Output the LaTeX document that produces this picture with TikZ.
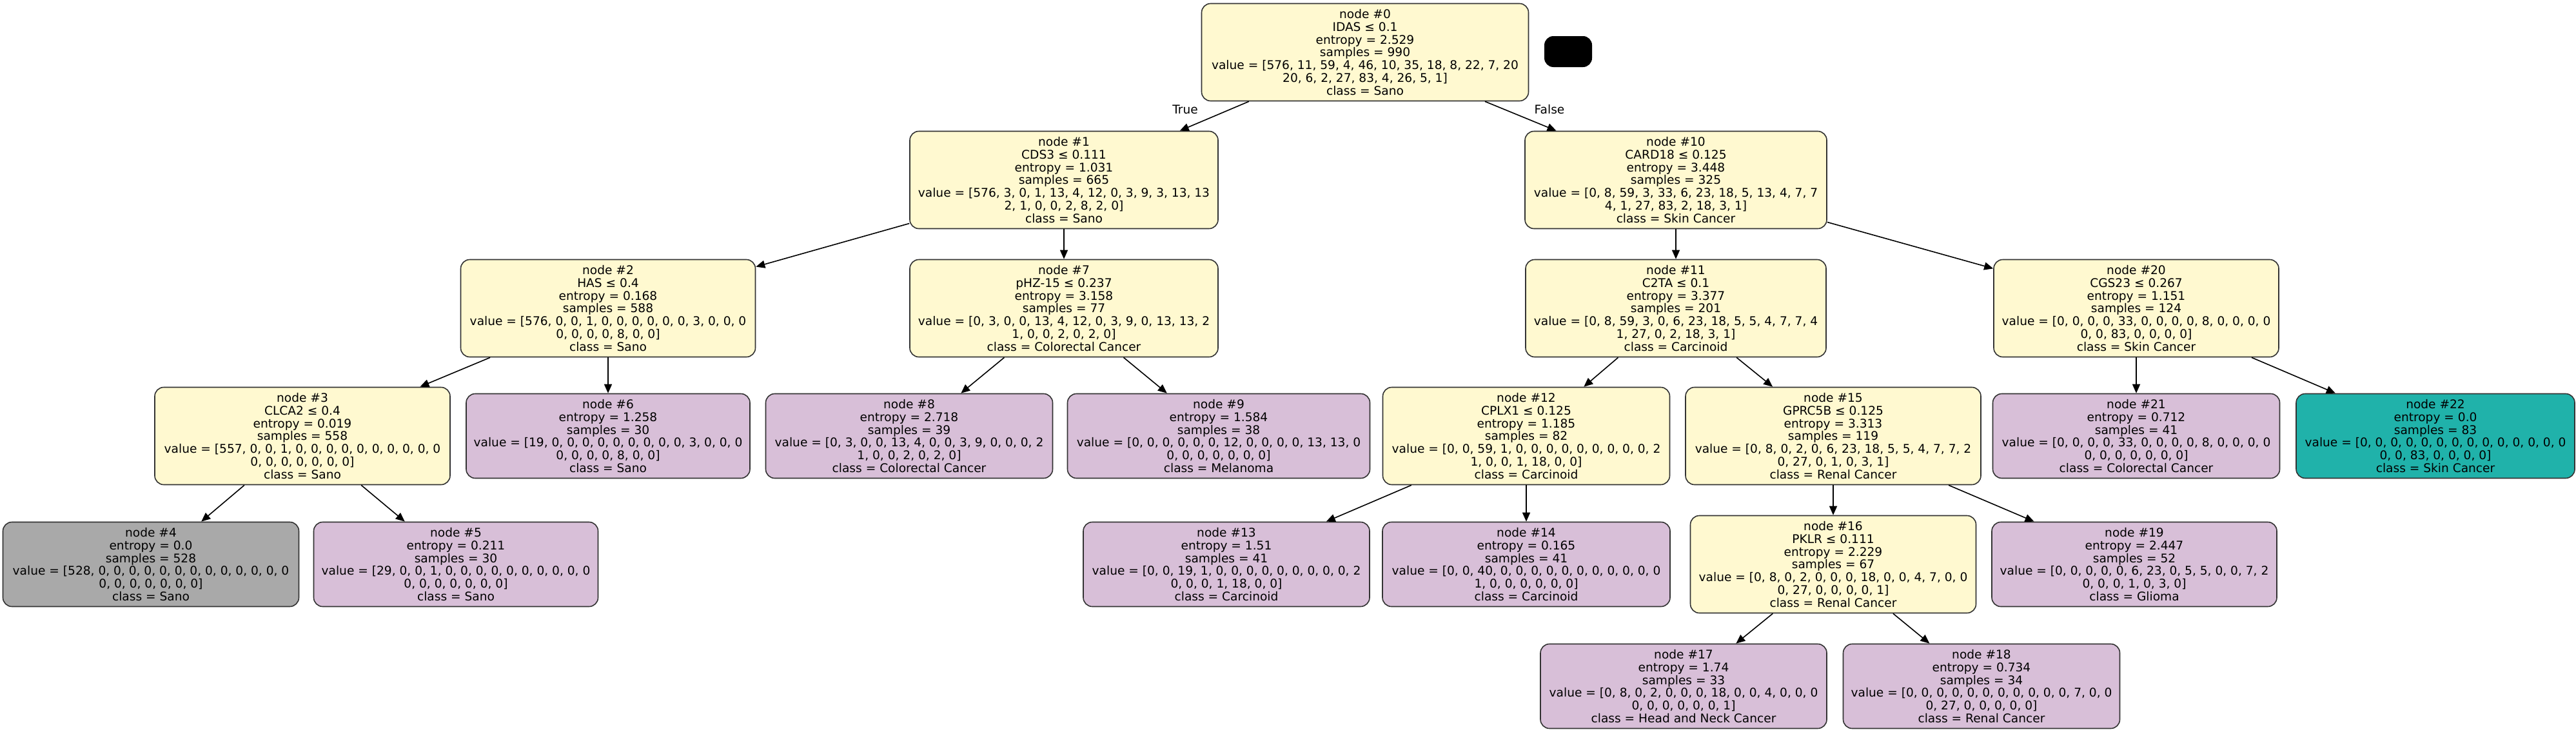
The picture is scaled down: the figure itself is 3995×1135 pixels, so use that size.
\documentclass[tikz,border=0pt]{standalone}
\usepackage{fontspec}
\setmainfont{DejaVu Sans}
\usetikzlibrary{arrows.meta}
\definecolor{yel}{HTML}{FFF9D0}
\definecolor{lil}{HTML}{D8BFD8}
\definecolor{gry}{HTML}{A9A9A9}
\definecolor{tea}{HTML}{20B2AA}
\tikzset{
  tbox/.style={draw=black!80, line width=0.8pt, rounded corners=7pt, align=center,
    inner sep=0pt, font=\fontsize{9.3}{9.9}\selectfont},
  split/.style={tbox, fill=yel, minimum height=75.5pt},
  leaf/.style={tbox, fill=lil, minimum height=65.5pt},
  edge/.style={draw=black, line width=0.8pt, -{Triangle[length=7pt,width=6pt]}},
  elab/.style={font=\fontsize{9.3}{10}\selectfont, inner sep=0pt}
}
\begin{document}
\begin{tikzpicture}[x=0.5pt, y=-0.5pt]
\useasboundingbox (0,0) rectangle (3995,1135);
% level 0
\node[split, minimum width=253.5pt] (n0) at (2117,81) {node \#0\\IDAS ≤ 0.1\\entropy = 2.529\\samples = 990\\value = [576, 11, 59, 4, 46, 10, 35, 18, 8, 22, 7, 20\\20, 6, 2, 27, 83, 4, 26, 5, 1]\\class = Sano};
\node[fill=black, rounded corners=7pt, minimum width=37pt, minimum height=24pt, inner sep=0pt] (leg) at (2432,80) {};
% level 1
\node[split, minimum width=239pt] (n1) at (1650,279) {node \#1\\CDS3 ≤ 0.111\\entropy = 1.031\\samples = 665\\value = [576, 3, 0, 1, 13, 4, 12, 0, 3, 9, 3, 13, 13\\2, 1, 0, 0, 2, 8, 2, 0]\\class = Sano};
\node[split, minimum width=234pt] (n10) at (2599,279) {node \#10\\CARD18 ≤ 0.125\\entropy = 3.448\\samples = 325\\value = [0, 8, 59, 3, 33, 6, 23, 18, 5, 13, 4, 7, 7\\4, 1, 27, 83, 2, 18, 3, 1]\\class = Skin Cancer};
% level 2
\node[split, minimum width=228.5pt] (n2) at (943,478) {node \#2\\HAS ≤ 0.4\\entropy = 0.168\\samples = 588\\value = [576, 0, 0, 1, 0, 0, 0, 0, 0, 0, 3, 0, 0, 0\\0, 0, 0, 0, 8, 0, 0]\\class = Sano};
\node[split, minimum width=239pt] (n7) at (1650,478) {node \#7\\pHZ-15 ≤ 0.237\\entropy = 3.158\\samples = 77\\value = [0, 3, 0, 0, 13, 4, 12, 0, 3, 9, 0, 13, 13, 2\\1, 0, 0, 2, 0, 2, 0]\\class = Colorectal Cancer};
\node[split, minimum width=233pt] (n11) at (2599,478) {node \#11\\C2TA ≤ 0.1\\entropy = 3.377\\samples = 201\\value = [0, 8, 59, 3, 0, 6, 23, 18, 5, 5, 4, 7, 7, 4\\1, 27, 0, 2, 18, 3, 1]\\class = Carcinoid};
\node[split, minimum width=221pt] (n20) at (3313,478) {node \#20\\CGS23 ≤ 0.267\\entropy = 1.151\\samples = 124\\value = [0, 0, 0, 0, 33, 0, 0, 0, 0, 8, 0, 0, 0, 0\\0, 0, 83, 0, 0, 0, 0]\\class = Skin Cancer};
% level 3
\node[split, minimum width=229pt] (n3) at (469,676) {node \#3\\CLCA2 ≤ 0.4\\entropy = 0.019\\samples = 558\\value = [557, 0, 0, 1, 0, 0, 0, 0, 0, 0, 0, 0, 0, 0\\0, 0, 0, 0, 0, 0, 0]\\class = Sano};
\node[leaf, minimum width=220pt] (n6) at (943,676) {node \#6\\entropy = 1.258\\samples = 30\\value = [19, 0, 0, 0, 0, 0, 0, 0, 0, 0, 3, 0, 0, 0\\0, 0, 0, 0, 8, 0, 0]\\class = Sano};
\node[leaf, minimum width=222.5pt] (n8) at (1410,676) {node \#8\\entropy = 2.718\\samples = 39\\value = [0, 3, 0, 0, 13, 4, 0, 0, 3, 9, 0, 0, 0, 2\\1, 0, 0, 2, 0, 2, 0]\\class = Colorectal Cancer};
\node[leaf, minimum width=234.5pt] (n9) at (1890,676) {node \#9\\entropy = 1.584\\samples = 38\\value = [0, 0, 0, 0, 0, 0, 12, 0, 0, 0, 0, 13, 13, 0\\0, 0, 0, 0, 0, 0, 0]\\class = Melanoma};
\node[split, minimum width=222.5pt] (n12) at (2367,676) {node \#12\\CPLX1 ≤ 0.125\\entropy = 1.185\\samples = 82\\value = [0, 0, 59, 1, 0, 0, 0, 0, 0, 0, 0, 0, 0, 2\\1, 0, 0, 1, 18, 0, 0]\\class = Carcinoid};
\node[split, minimum width=229pt] (n15) at (2843,676) {node \#15\\GPRC5B ≤ 0.125\\entropy = 3.313\\samples = 119\\value = [0, 8, 0, 2, 0, 6, 23, 18, 5, 5, 4, 7, 7, 2\\0, 27, 0, 1, 0, 3, 1]\\class = Renal Cancer};
\node[leaf, minimum width=222.5pt] (n21) at (3313,676) {node \#21\\entropy = 0.712\\samples = 41\\value = [0, 0, 0, 0, 33, 0, 0, 0, 0, 8, 0, 0, 0, 0\\0, 0, 0, 0, 0, 0, 0]\\class = Colorectal Cancer};
\node[leaf, fill=tea, minimum width=216pt] (n22) at (3777,676) {node \#22\\entropy = 0.0\\samples = 83\\value = [0, 0, 0, 0, 0, 0, 0, 0, 0, 0, 0, 0, 0, 0\\0, 0, 83, 0, 0, 0, 0]\\class = Skin Cancer};
% level 4
\node[leaf, fill=gry, minimum width=229.5pt] (n4) at (234,875) {node \#4\\entropy = 0.0\\samples = 528\\value = [528, 0, 0, 0, 0, 0, 0, 0, 0, 0, 0, 0, 0, 0\\0, 0, 0, 0, 0, 0, 0]\\class = Sano};
\node[leaf, minimum width=220.5pt] (n5) at (707,875) {node \#5\\entropy = 0.211\\samples = 30\\value = [29, 0, 0, 1, 0, 0, 0, 0, 0, 0, 0, 0, 0, 0\\0, 0, 0, 0, 0, 0, 0]\\class = Sano};
\node[leaf, minimum width=222pt] (n13) at (1902,875) {node \#13\\entropy = 1.51\\samples = 41\\value = [0, 0, 19, 1, 0, 0, 0, 0, 0, 0, 0, 0, 0, 2\\0, 0, 0, 1, 18, 0, 0]\\class = Carcinoid};
\node[leaf, minimum width=223pt] (n14) at (2367,875) {node \#14\\entropy = 0.165\\samples = 41\\value = [0, 0, 40, 0, 0, 0, 0, 0, 0, 0, 0, 0, 0, 0\\1, 0, 0, 0, 0, 0, 0]\\class = Carcinoid};
\node[split, minimum width=221.5pt] (n16) at (2843,875) {node \#16\\PKLR ≤ 0.111\\entropy = 2.229\\samples = 67\\value = [0, 8, 0, 2, 0, 0, 0, 18, 0, 0, 4, 7, 0, 0\\0, 27, 0, 0, 0, 0, 1]\\class = Renal Cancer};
\node[leaf, minimum width=221pt] (n19) at (3310,875) {node \#19\\entropy = 2.447\\samples = 52\\value = [0, 0, 0, 0, 0, 6, 23, 0, 5, 5, 0, 0, 7, 2\\0, 0, 0, 1, 0, 3, 0]\\class = Glioma};
% level 5
\node[leaf, minimum width=222pt] (n17) at (2611,1064) {node \#17\\entropy = 1.74\\samples = 33\\value = [0, 8, 0, 2, 0, 0, 0, 18, 0, 0, 4, 0, 0, 0\\0, 0, 0, 0, 0, 0, 1]\\class = Head and Neck Cancer};
\node[leaf, minimum width=214.5pt] (n18) at (3073,1064) {node \#18\\entropy = 0.734\\samples = 34\\value = [0, 0, 0, 0, 0, 0, 0, 0, 0, 0, 0, 7, 0, 0\\0, 27, 0, 0, 0, 0, 0]\\class = Renal Cancer};
% edge labels
\node[elab] (tlab) at (1838,170) {True};
\node[elab] (flab) at (2403,170) {False};
% edges
\draw[edge] (n0) -- (n1);
\draw[edge] (n0) -- (n10);
\draw[edge] (n1) -- (n2);
\draw[edge] (n1) -- (n7);
\draw[edge] (n2) -- (n3);
\draw[edge] (n2) -- (n6);
\draw[edge] (n3) -- (n4);
\draw[edge] (n3) -- (n5);
\draw[edge] (n7) -- (n8);
\draw[edge] (n7) -- (n9);
\draw[edge] (n10) -- (n11);
\draw[edge] (n10) -- (n20);
\draw[edge] (n11) -- (n12);
\draw[edge] (n11) -- (n15);
\draw[edge] (n12) -- (n13);
\draw[edge] (n12) -- (n14);
\draw[edge] (n15) -- (n16);
\draw[edge] (n15) -- (n19);
\draw[edge] (n16) -- (n17);
\draw[edge] (n16) -- (n18);
\draw[edge] (n20) -- (n21);
\draw[edge] (n20) -- (n22);
\end{tikzpicture}
\end{document}
